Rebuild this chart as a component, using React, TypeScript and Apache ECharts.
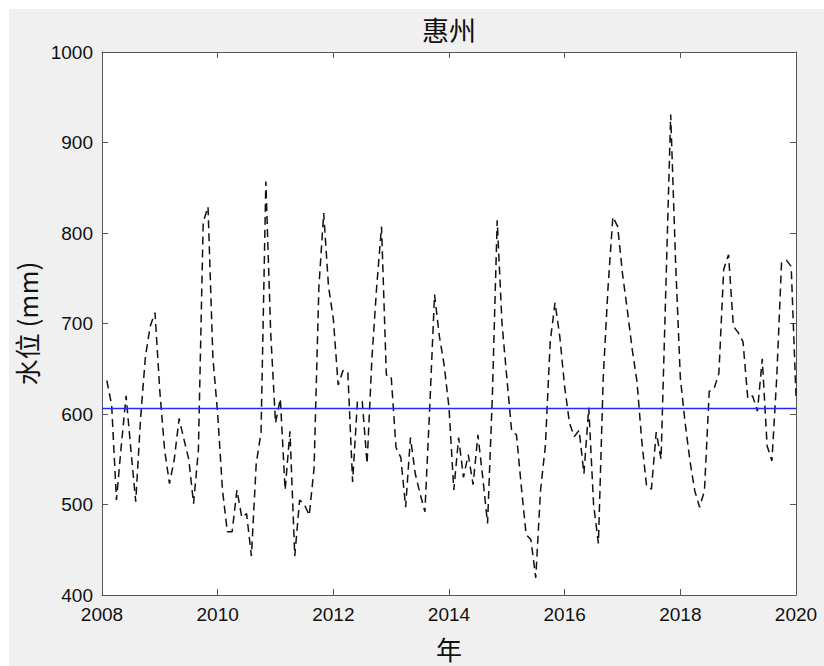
import React, { useEffect, useRef } from "react";
import * as echarts from "echarts";

// Monthly water level (mm), Huizhou, Jan..Dec of each year
const YEARS = [2008, 2009, 2010, 2011, 2012, 2013, 2014, 2015, 2016, 2017, 2018, 2019];
const LEVEL_2008 = [637, 610, 505, 565, 620, 560, 503, 595, 663, 697, 712, 625];
const LEVEL_2009 = [560, 523, 550, 595, 572, 550, 501, 560, 812, 829, 663, 600];
const LEVEL_2010 = [516, 470, 470, 516, 486, 490, 443, 545, 580, 857, 690, 590];
const LEVEL_2011 = [617, 516, 581, 443, 505, 500, 488, 540, 740, 822, 741, 705];
const LEVEL_2012 = [632, 648, 647, 525, 614, 614, 545, 661, 741, 807, 643, 642];
const LEVEL_2013 = [563, 552, 497, 574, 534, 512, 492, 607, 732, 686, 654, 607];
const LEVEL_2014 = [516, 574, 530, 555, 522, 577, 530, 479, 620, 814, 700, 640];
const LEVEL_2015 = [581, 577, 520, 467, 461, 419, 516, 565, 680, 723, 685, 630];
const LEVEL_2016 = [590, 575, 582, 534, 607, 500, 457, 640, 740, 818, 807, 755];
const LEVEL_2017 = [715, 672, 636, 570, 520, 517, 580, 550, 740, 931, 770, 640];
const LEVEL_2018 = [590, 548, 515, 497, 515, 625, 628, 645, 760, 776, 697, 690];
const LEVEL_2019 = [680, 617, 620, 603, 661, 565, 548, 640, 767, 770, 763, 620];
const LEVELS = [
  LEVEL_2008, LEVEL_2009, LEVEL_2010, LEVEL_2011, LEVEL_2012, LEVEL_2013,
  LEVEL_2014, LEVEL_2015, LEVEL_2016, LEVEL_2017, LEVEL_2018, LEVEL_2019,
];
const MEAN_LEVEL = 606.6;

const X_TICKS = [2008, 2010, 2012, 2014, 2016, 2018, 2020];
const Y_TICKS = [400, 500, 600, 700, 800, 900, 1000];

const TITLE = "惠州";
const X_NAME = "年";
const Y_NAME = "水位 (mm)";

const W = 824;
const H = 666;

export default function App() {
  const ref = useRef<HTMLDivElement>(null);

  useEffect(() => {
    document.body.style.margin = "0";
    if (!ref.current) return;
    const chart = echarts.init(ref.current, undefined, { renderer: "svg" });

    const lineData: number[][] = [];
    YEARS.forEach((y, i) => {
      LEVELS[i].forEach((v, m) => lineData.push([y + (m + 1) / 12, v]));
    });

    const axisColor = "#555555";
    const labelFont = "'Liberation Sans', Arial, Helvetica, sans-serif";
    const cjkFont = "'Noto Sans CJK SC', 'Noto Sans', sans-serif";

    const xCommon = {
      type: "value" as const,
      min: X_TICKS[0],
      max: X_TICKS[X_TICKS.length - 1],
      interval: X_TICKS[1] - X_TICKS[0],
      splitLine: { show: false },
      axisLine: { show: true, onZero: false, lineStyle: { color: axisColor, width: 1 } },
      axisTick: { show: true, inside: true, length: 6, lineStyle: { color: axisColor } },
    };
    const yCommon = {
      type: "value" as const,
      min: Y_TICKS[0],
      max: Y_TICKS[Y_TICKS.length - 1],
      interval: Y_TICKS[1] - Y_TICKS[0],
      splitLine: { show: false },
      axisLine: { show: true, onZero: false, lineStyle: { color: axisColor, width: 1 } },
      axisTick: { show: true, inside: true, length: 6, lineStyle: { color: axisColor } },
    };

    chart.setOption({
      animation: false,
      backgroundColor: "transparent",
      grid: {
        left: 102,
        right: W - 796,
        top: 52,
        bottom: H - 598,
        show: true,
        backgroundColor: "#ffffff",
        borderWidth: 0,
      },
      graphic: [
        {
          type: "text",
          x: 449,
          y: 29,
          style: {
            text: TITLE,
            fill: "#111111",
            font: `27px ${cjkFont}`,
            textAlign: "center",
            textVerticalAlign: "middle",
          },
        },
      ],
      xAxis: [
        {
          ...xCommon,
          position: "bottom",
          name: X_NAME,
          nameLocation: "middle",
          nameGap: 40,
          nameTextStyle: { fontSize: 26, fontFamily: cjkFont, color: "#111111" },
          axisLabel: {
            show: true,
            margin: 10,
            fontSize: 19,
            fontFamily: labelFont,
            color: "#111111",
            formatter: (v: number) => String(v),
          },
        },
        {
          ...xCommon,
          position: "top",
          axisLabel: { show: false },
        },
      ],
      yAxis: [
        {
          ...yCommon,
          position: "left",
          name: Y_NAME,
          nameLocation: "middle",
          nameRotate: 90,
          nameGap: 59,
          nameTextStyle: { fontSize: 26, fontFamily: cjkFont, color: "#111111" },
          axisLabel: {
            show: true,
            margin: 9,
            fontSize: 19,
            fontFamily: labelFont,
            color: "#111111",
            formatter: (v: number) => String(v),
          },
        },
        {
          ...yCommon,
          position: "right",
          axisLabel: { show: false },
        },
      ],
      series: [
        {
          type: "line",
          xAxisIndex: 0,
          yAxisIndex: 0,
          data: lineData,
          showSymbol: false,
          symbol: "none",
          lineStyle: { color: "#111111", width: 1.5, type: [8, 5] },
          z: 3,
          markLine: {
            silent: true,
            symbol: ["none", "none"],
            label: { show: false },
            lineStyle: { color: "#1f2bff", width: 1.3, type: "solid" },
            data: [{ yAxis: MEAN_LEVEL }],
          },
        },
      ],
    });

    return () => chart.dispose();
  }, []);

  return (
    <div style={{ position: "relative", width: W, height: H, background: "#ffffff", overflow: "hidden" }}>
      <div
        style={{
          position: "absolute",
          left: 9,
          top: 9,
          width: W - 9,
          height: H - 9,
          background: "#f0f0f0",
        }}
      />
      <div ref={ref} style={{ position: "absolute", left: 0, top: 0, width: W, height: H }} />
    </div>
  );
}
